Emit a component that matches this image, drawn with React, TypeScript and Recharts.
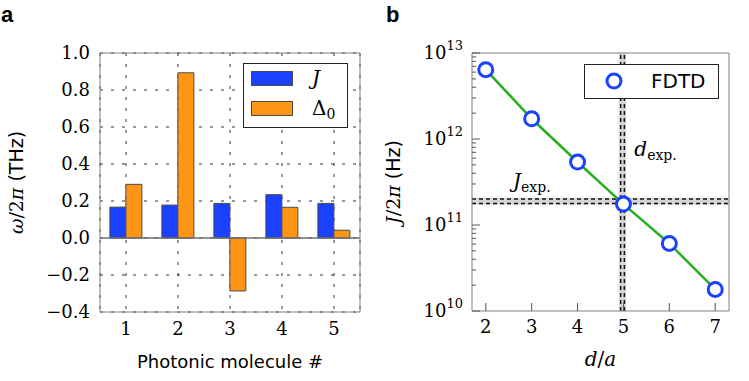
import React from 'react';
import {
  BarChart,
  Bar,
  LineChart,
  Line,
  XAxis,
  YAxis,
  CartesianGrid,
  ReferenceLine,
  ReferenceArea,
  Legend,
  Label,
} from 'recharts';

const SERIF = "'DejaVu Serif', serif";
const SANS = "'DejaVu Sans', sans-serif";
const BLUE = '#1a41ff';
const ORANGE = '#ff9514';
const GREEN = '#26b01e';
const FRAME = '#808080';
const TICK_COLOR = '#555';
const TICK_SIZE = 2;
const TICK_MARGIN = 7;

// panel a
const molecules = ['1', '2', '3', '4', '5'];
const couplingJ = [0.167, 0.178, 0.187, 0.234, 0.187];
const detuning = [0.29, 0.893, -0.286, 0.166, 0.042];
const ticksA = [-0.4, -0.2, 0, 0.2, 0.4, 0.6, 0.8, 1.0];

// panel b
const spacing = [2, 3, 4, 5, 6, 7];
const couplingFdtd = [6.4e12, 1.72e12, 5.4e11, 1.75e11, 6.1e10, 1.78e10];
const ticksB = [1e10, 1e11, 1e12, 1e13];
const minorTicksB = [1e10, 1e11, 1e12].flatMap((p) => [2, 3, 4, 5, 6, 7, 8, 9].map((m) => m * p));
const dExp = [4.94, 5.02];
const dExpBand = [4.9, 5.06];
const jExp = [1.78e11, 2.0e11];
const jExpBand = [1.72e11, 2.08e11];

const barData = molecules.map((m, i) => ({ name: m, J: couplingJ[i], D0: detuning[i] }));
const fdtdData = spacing.map((d, i) => ({ d, J: couplingFdtd[i] }));
const allTicksB = [...ticksB, ...minorTicksB].sort((a, b) => a - b);

const fmtA = (v: number) => (v < 0 ? '\u2212' : '') + Math.abs(v).toFixed(1);

// log axis tick: decade label + inward tick mark (longer at decades)
const LogTick = (props: any) => {
  const { x, y, payload } = props;
  const lg = Math.log10(payload.value);
  const major = Math.abs(lg - Math.round(lg)) < 1e-6;
  const ax = x + TICK_SIZE + TICK_MARGIN;
  return (
    <g>
      <line x1={ax} x2={ax + (major ? 8 : 4)} y1={y} y2={y} stroke={TICK_COLOR} strokeWidth={1} />
      {major && (
        <text x={x} y={y} textAnchor="end" dy={6} fontFamily={SERIF} fontSize={18} fill="#000">
          <tspan>10</tspan>
          <tspan dy={-9} fontSize={13}>{Math.round(lg)}</tspan>
        </text>
      )}
    </g>
  );
};

const SpacingTick = (props: any) => {
  const { x, y, payload } = props;
  const ay = y - TICK_SIZE - TICK_MARGIN;
  return (
    <g>
      <line x1={x} x2={x} y1={ay} y2={ay - 8} stroke={TICK_COLOR} strokeWidth={1} />
      <text x={x} y={y} textAnchor="middle" dy="0.71em" fontFamily={SERIF} fontSize={18} fill="#000">
        {payload.value}
      </text>
    </g>
  );
};

const BarLegend = () => (
  <div
    style={{
      width: 105,
      height: 65,
      border: '1.5px solid #222',
      background: '#fff',
      boxSizing: 'border-box',
      position: 'relative',
      fontFamily: SERIF,
      fontSize: 20,
    }}
  >
    <div style={{ position: 'absolute', left: 7, top: 7, width: 42, height: 15, background: BLUE, border: '1px solid #4a4a4a', boxSizing: 'border-box' }} />
    <div style={{ position: 'absolute', left: 68, top: 2, fontStyle: 'italic', lineHeight: '24px' }}>J</div>
    <div style={{ position: 'absolute', left: 7, top: 37, width: 42, height: 15, background: ORANGE, border: '1px solid #4a4a4a', boxSizing: 'border-box' }} />
    <div style={{ position: 'absolute', left: 68, top: 32, lineHeight: '24px' }}>
      {'\u0394'}
      <span style={{ fontSize: 14, position: 'relative', top: 4 }}>0</span>
    </div>
  </div>
);

const FdtdLegend = () => (
  <div
    style={{
      width: 135,
      height: 35,
      border: '1.5px solid #222',
      background: '#fff',
      boxSizing: 'border-box',
      position: 'relative',
    }}
  >
    <svg width={22} height={22} style={{ position: 'absolute', left: 18, top: 5 }}>
      <circle cx={11} cy={11} r={7} fill="#fff" stroke={BLUE} strokeWidth={3} />
    </svg>
    <div style={{ position: 'absolute', left: 66, top: 4, fontFamily: SANS, fontSize: 20, lineHeight: '24px' }}>FDTD</div>
  </div>
);

function PanelA() {
  return (
    <BarChart
      width={375}
      height={381}
      data={barData}
      margin={{ top: 53, right: 15, bottom: 0, left: 0 }}
      barCategoryGap="19%"
      barGap={0}
    >
      <CartesianGrid stroke="#333" strokeDasharray="3 8" />
      <XAxis
        dataKey="name"
        height={69}
        interval={0}
        tickLine={false}
        tickSize={4}
        tickMargin={6}
        axisLine={{ stroke: FRAME }}
        tick={{ fontFamily: SERIF, fontSize: 18, fill: '#000' }}
      >
        <Label
          content={(p: any) => {
            const vb = p.viewBox || { x: 100, y: 312, width: 260, height: 69 };
            return (
              <text x={vb.x + vb.width / 2} y={vb.y + 56} textAnchor="middle" fontFamily={SANS} fontSize={18} fill="#000">
                Photonic molecule #
              </text>
            );
          }}
        />
      </XAxis>
      <XAxis xAxisId="top" dataKey="name" orientation="top" mirror height={20} tick={false} tickLine={false} axisLine={{ stroke: FRAME }} />
      <YAxis
        width={100}
        domain={[-0.4, 1]}
        ticks={ticksA}
        interval={0}
        tickLine={false}
        tickSize={4}
        tickMargin={6}
        axisLine={{ stroke: FRAME }}
        tickFormatter={fmtA}
        tick={{ fontFamily: SERIF, fontSize: 18, fill: '#000' }}
      >
        <Label
          content={(p: any) => {
            const vb = p.viewBox || { x: 0, y: 53, width: 100, height: 259 };
            const cx = vb.x + 23;
            const cy = vb.y + vb.height / 2;
            return (
              <text x={cx} y={cy} textAnchor="middle" transform={`rotate(-90, ${cx}, ${cy})`} fontSize={19} fill="#000">
                <tspan fontFamily={SERIF} fontStyle="italic">ω</tspan>
                <tspan fontFamily={SERIF}>/2</tspan>
                <tspan fontFamily={SERIF} fontStyle="italic">π</tspan>
                <tspan fontFamily={SANS}> (THz)</tspan>
              </text>
            );
          }}
        />
      </YAxis>
      <YAxis yAxisId="right" orientation="right" mirror width={20} domain={[-0.4, 1]} tick={false} tickLine={false} axisLine={{ stroke: FRAME }} />
      <ReferenceLine y={0} stroke="#6e6e6e" strokeWidth={1.5} />
      <Bar dataKey="J" name="J" fill={BLUE} stroke="#4a4a4a" strokeWidth={1} isAnimationActive={false} />
      <Bar dataKey="D0" name="Δ0" fill={ORANGE} stroke="#4a4a4a" strokeWidth={1} isAnimationActive={false} />
      <Legend
        layout="vertical"
        align="center"
        verticalAlign="middle"
        wrapperStyle={{ left: 243, top: 63, width: 105, height: 65 }}
        content={<BarLegend />}
      />
    </BarChart>
  );
}

function PanelB() {
  const logAxis = { scale: 'log' as const, type: 'number' as const, domain: [1e10, 1e13], allowDataOverflow: true };
  const xNum = { type: 'number' as const, domain: [1.7, 7.3], allowDataOverflow: true, dataKey: 'd' };
  return (
    <LineChart width={374} height={381} data={fdtdData} margin={{ top: 53, right: 20, bottom: 0, left: 0 }}>
      <XAxis
        {...xNum}
        ticks={spacing}
        interval={0}
        height={70}
        tickLine={false}
        tickSize={TICK_SIZE}
        tickMargin={TICK_MARGIN}
        axisLine={{ stroke: FRAME }}
        tick={<SpacingTick />}
      >
        <Label
          content={(p: any) => {
            const vb = p.viewBox || { x: 97, y: 311, width: 257, height: 70 };
            return (
              <text x={vb.x + vb.width / 2} y={vb.y + 55} textAnchor="middle" fontFamily={SERIF} fontSize={20} fill="#000">
                <tspan fontStyle="italic">d</tspan>
                <tspan>/</tspan>
                <tspan fontStyle="italic">a</tspan>
              </text>
            );
          }}
        />
      </XAxis>
      <XAxis {...xNum} xAxisId="top" orientation="top" mirror height={20} tick={false} tickLine={false} axisLine={{ stroke: FRAME }} />
      <YAxis
        {...logAxis}
        ticks={allTicksB}
        interval={0}
        width={97}
        tickLine={false}
        tickSize={TICK_SIZE}
        tickMargin={TICK_MARGIN}
        axisLine={{ stroke: FRAME }}
        tick={<LogTick />}
      >
        <Label
          content={(p: any) => {
            const vb = p.viewBox || { x: 0, y: 53, width: 97, height: 258 };
            const cx = vb.x + 25;
            const cy = vb.y + vb.height / 2;
            return (
              <text x={cx} y={cy} textAnchor="middle" transform={`rotate(-90, ${cx}, ${cy})`} fontSize={19} fill="#000">
                <tspan fontFamily={SERIF} fontStyle="italic">J</tspan>
                <tspan fontFamily={SERIF}>/2</tspan>
                <tspan fontFamily={SERIF} fontStyle="italic">π</tspan>
                <tspan fontFamily={SANS}> (Hz)</tspan>
              </text>
            );
          }}
        />
      </YAxis>
      <YAxis {...logAxis} yAxisId="right" orientation="right" mirror width={20} tick={false} tickLine={false} axisLine={{ stroke: FRAME }} />
      <ReferenceArea x1={dExpBand[0]} x2={dExpBand[1]} fill="#d6d6d6" fillOpacity={1} stroke="none" />
      <ReferenceArea y1={jExpBand[0]} y2={jExpBand[1]} fill="#d6d6d6" fillOpacity={1} stroke="none" />
      <ReferenceLine x={dExp[0]} stroke="#111" strokeDasharray="4 3" strokeWidth={1.5} />
      <ReferenceLine
        x={dExp[1]}
        stroke="#111"
        strokeDasharray="4 3"
        strokeWidth={1.5}
        label={
          <Label
            content={(p: any) => {
              const vb = p.viewBox || { x: 250, y: 53 };
              return (
                <text x={vb.x + 10} y={vb.y + 103} fontFamily={SERIF} fontSize={20} fill="#000">
                  <tspan fontStyle="italic">d</tspan>
                  <tspan fontSize={14} dy={4}>exp.</tspan>
                </text>
              );
            }}
          />
        }
      />
      <ReferenceLine y={jExp[0]} stroke="#111" strokeDasharray="4 3" strokeWidth={1.5} />
      <ReferenceLine
        y={jExp[1]}
        stroke="#111"
        strokeDasharray="4 3"
        strokeWidth={1.5}
        label={
          <Label
            content={(p: any) => {
              const vb = p.viewBox || { x: 97, y: 199 };
              return (
                <text x={vb.x + 41} y={vb.y - 11} fontFamily={SERIF} fontSize={20} fill="#000">
                  <tspan fontStyle="italic">J</tspan>
                  <tspan fontSize={14} dy={4}>exp.</tspan>
                </text>
              );
            }}
          />
        }
      />
      <Line
        dataKey="J"
        name="FDTD"
        stroke={GREEN}
        strokeWidth={2.5}
        dot={{ r: 7, stroke: BLUE, strokeWidth: 3, fill: '#fff' }}
        activeDot={false}
        isAnimationActive={false}
      />
      <Legend
        layout="vertical"
        align="center"
        verticalAlign="middle"
        wrapperStyle={{ left: 209, top: 64, width: 135, height: 35 }}
        content={<FdtdLegend />}
      />
    </LineChart>
  );
}

export default function App() {
  return (
    <div style={{ position: 'absolute', left: 0, top: 0, width: 749, height: 381, background: '#fff', overflow: 'hidden' }}>
      <div style={{ position: 'absolute', left: 0, top: 0 }}>
        <PanelA />
      </div>
      <div style={{ position: 'absolute', left: 375, top: 0 }}>
        <PanelB />
      </div>
      <div style={{ position: 'absolute', left: 1, top: 2, fontFamily: "'Liberation Sans', sans-serif", fontWeight: 'bold', fontSize: 22 }}>a</div>
      <div style={{ position: 'absolute', left: 386, top: 2, fontFamily: "'Liberation Sans', sans-serif", fontWeight: 'bold', fontSize: 22 }}>b</div>
    </div>
  );
}
